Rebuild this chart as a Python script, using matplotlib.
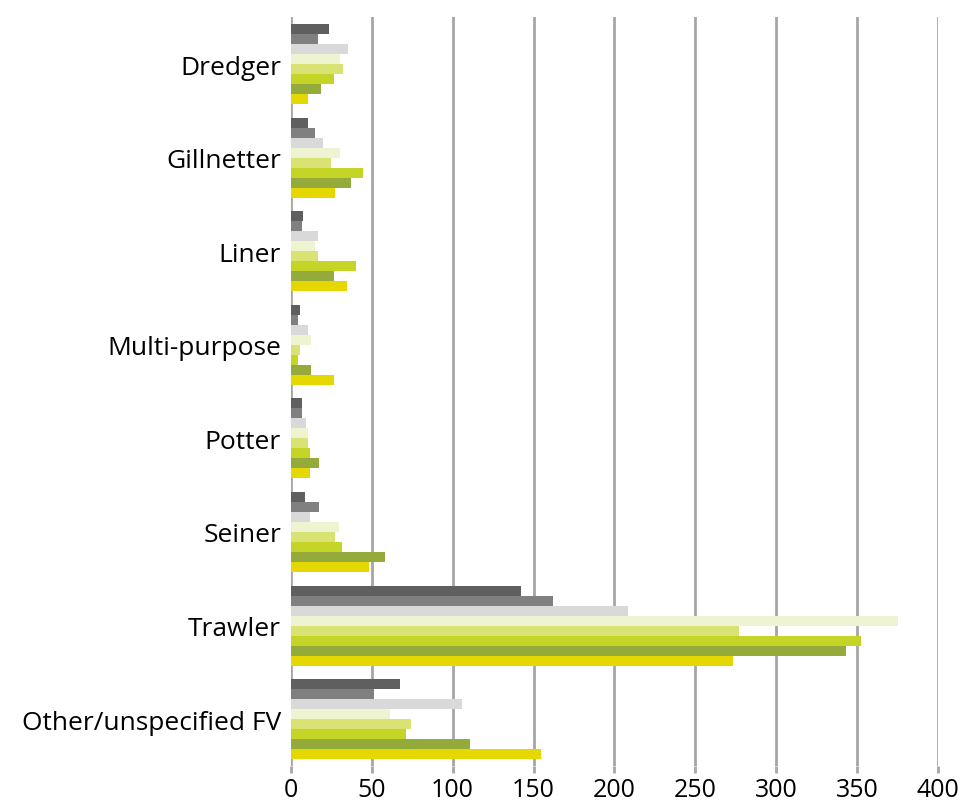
import numpy as np
import matplotlib.pyplot as plt

plt.rcParams['font.family'] = ['Open Sans', 'DejaVu Sans']

# Vessel types, top to bottom
categories = ['Dredger', 'Gillnetter', 'Liner', 'Multi-purpose', 'Potter',
              'Seiner', 'Trawler', 'Other/unspecified FV']

# One list per series, same order as categories
s1 = [23.7, 10.7, 7.6, 5.8, 7.0, 8.9, 142.4, 67.3]
s2 = [16.9, 15.0, 7.0, 4.5, 7.0, 17.5, 161.8, 51.3]
s3 = [35.4, 20.0, 16.9, 10.7, 9.5, 11.9, 208.4, 105.6]
s4 = [30.5, 30.5, 15.0, 12.6, 10.7, 29.9, 375.4, 61.2]
s5 = [32.3, 24.9, 16.9, 5.8, 10.7, 27.4, 277.3, 74.1]
s6 = [26.8, 44.7, 40.4, 4.5, 11.9, 31.7, 352.5, 71.0]
s7 = [18.7, 37.3, 26.8, 12.6, 17.5, 58.3, 343.1, 110.6]
s8 = [10.7, 27.4, 34.8, 26.8, 11.9, 48.4, 273.6, 154.4]

series = [s1, s2, s3, s4, s5, s6, s7, s8]
colors = ['#5f5f5f', '#808080', '#d9d9d9', '#eef3d1',
          '#d9e374', '#c4d527', '#94ab3c', '#e5d800']

fig = plt.figure(figsize=(9.63, 8.03), dpi=100)
ax = fig.add_axes([0.302, 0.045, 0.672, 0.932])

n = len(series)
h = 0.107
ypos = np.arange(len(categories))[::-1]
for i, (vals, c) in enumerate(zip(series, colors)):
    offset = (n - 1) / 2 * h - i * h
    ax.barh(ypos + offset, vals, height=h, color=c, zorder=3)

ax.set_xlim(0, 400)
ax.set_ylim(-0.5, len(categories) - 0.5)
ax.set_xticks(np.arange(0, 401, 50))
ax.set_yticks(ypos)
ax.set_yticklabels(categories)

ax.grid(axis='x', color='#a6a6a6', linewidth=2, zorder=0)
ax.grid(axis='y', visible=False)
for sp in ax.spines.values():
    sp.set_visible(False)
ax.set_axisbelow(True)

ax.tick_params(axis='y', length=0, pad=7, labelsize=19)
ax.tick_params(axis='x', length=5, width=2, color='#a6a6a6',
               pad=3, labelsize=18)

fig.savefig('out.png', dpi=100)
